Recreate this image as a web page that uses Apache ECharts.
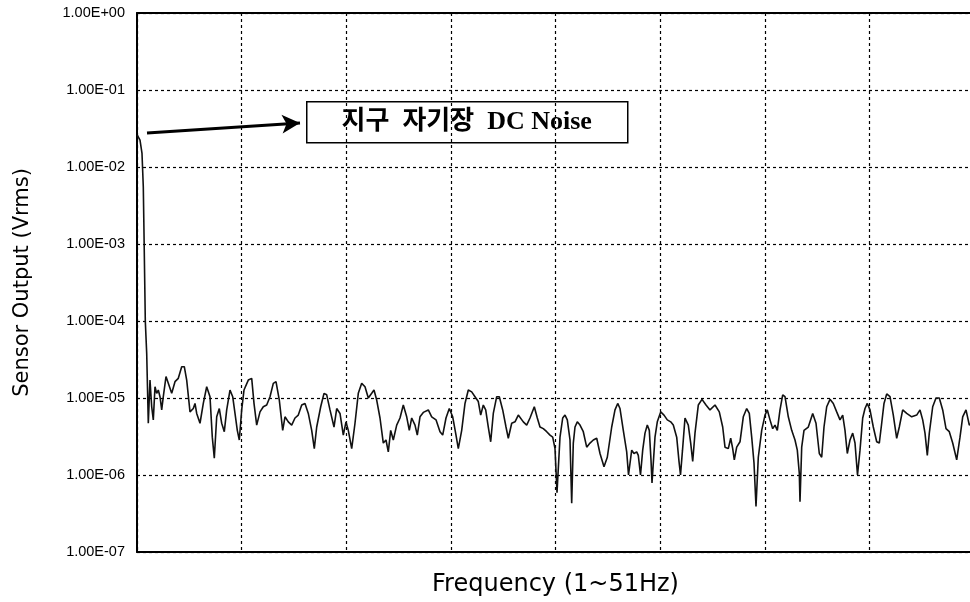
<!DOCTYPE html>
<html>
<head>
<meta charset="utf-8">
<script src="https://cdn.jsdelivr.net/npm/echarts@6/dist/echarts.min.js"></script>
<style>
  html, body { margin: 0; padding: 0; background: #fff; }
  #main { width: 970px; height: 602px; }
</style>
</head>
<body>
<div id="main"></div>
<script>
// frequency position (sample units, 0..837 over 1~51Hz)
const freqPos = [
  0.3, 3, 5, 6.3, 7.3, 8.3, 9.7, 11.3, 13, 14.7, 16.3, 18, 19.7, 21.3, 23, 24.7, 26.3, 29, 31.3, 34.7,
  38, 41.3, 44.7, 47.3, 49.7, 53, 56.3, 58, 59.7, 63, 66.3, 69.7, 73, 75.3, 77.3, 79.7, 82.3, 84.7, 87.3, 89.7,
  93, 95.7, 98, 100.3, 102.3, 104.7, 107, 111.3, 114.7, 117, 119.7, 123, 126.3, 129.7, 133, 136.3, 139, 142.3, 145.7, 148,
  151.3, 154.7, 158, 161.3, 164.7, 168, 171.3, 174.7, 177.3, 179.7, 183.7, 187, 189.7, 193, 197, 199.7, 203, 206.3, 209, 211.3,
  214.7, 218, 221.3, 224.7, 228, 231.3, 234.7, 237, 239.7, 243, 246.3, 249, 251.3, 253.7, 256.3, 259.7, 263, 266.3, 269.7, 272.3,
  274.7, 278, 280.3, 283, 286.3, 291.3, 294.7, 299, 303, 305.7, 309, 312.3, 315.7, 319, 321.3, 324.7, 328, 331.3, 334.7, 338,
  341.3, 343.7, 346.3, 348.7, 351.3, 353.7, 356.3, 359.7, 362.3, 365.7, 369, 371.3, 374.7, 378, 381.3, 383, 386.3, 389.7, 393, 397.3,
  400.3, 403, 406.3, 409.7, 413, 415.7, 418, 420, 423, 425.7, 428, 430.3, 433, 434.7, 436.3, 438, 440.3, 443, 446.3, 449.7,
  453, 456.3, 459.7, 463, 467, 470.3, 474.7, 478, 480.7, 483, 486.3, 489.7, 491.5, 494.7, 497, 499.7, 501.3, 503.5, 505.7, 508,
  510.3, 512.3, 514, 515, 518, 520.3, 523.7, 527, 530.3, 533.7, 536.3, 539.7, 542, 543.5, 545.5, 548, 551.3, 553.7, 555.7, 558,
  561.3, 565, 569, 573, 578, 582.3, 585.7, 588, 591.3, 593.7, 595.7, 597.3, 599.7, 603, 606.3, 609.7, 612.3, 614.7, 617, 619,
  621.3, 624.7, 628, 630.3, 633, 635.7, 638, 640.3, 643, 645.7, 648, 651.3, 654.7, 658, 660.3, 662.3, 663, 664.7, 667, 671.3,
  675.7, 679, 682.3, 684.7, 687, 689.7, 693, 696.3, 699.7, 703, 705.7, 708, 710.3, 713, 715.7, 718, 720.5, 723, 725.7, 728,
  730.3, 733, 736.3, 739.7, 742.3, 744.7, 747, 749.7, 753, 756.3, 759.7, 762.3, 765.7, 769.7, 774.7, 779.7, 783, 785.7, 788, 790.3,
  792.3, 795.7, 799, 802.3, 805.7, 809, 812.3, 815.7, 819.7, 823, 825.7, 829, 832.3, 836
];

// sensor output, Vrms
const sensorVrms = [
  2.6e-2, 2.24e-2, 1.5e-2, 5.5e-3, 7.6e-4, 1.0e-4, 3.8e-5, 4.7e-6, 1.71e-5, 7.7e-6, 5.2e-6, 1.4e-5, 1.15e-5, 1.27e-5, 1.04e-5, 7e-6, 1.04e-5, 1.9e-5, 1.55e-5, 1.15e-5,
  1.63e-5, 1.8e-5, 2.55e-5, 2.55e-5, 1.71e-5, 6.6e-6, 7.3e-6, 8.5e-6, 6.3e-6, 4.7e-6, 8.5e-6, 1.4e-5, 1.04e-5, 3.1e-6, 1.65e-6, 5.7e-6, 7.3e-6, 4.7e-6, 3.65e-6, 7e-6,
  1.27e-5, 1.04e-5, 6.3e-6, 3.8e-6, 2.85e-6, 7e-6, 1.27e-5, 1.71e-5, 1.8e-5, 8.5e-6, 4.45e-6, 6.6e-6, 7.7e-6, 8.1e-6, 1.04e-5, 1.55e-5, 1.63e-5, 9.4e-6, 3.8e-6, 5.7e-6,
  4.9e-6, 4.45e-6, 5.5e-6, 6e-6, 8.1e-6, 8.5e-6, 6.3e-6, 3.8e-6, 2.2e-6, 4.2e-6, 7.7e-6, 1.15e-5, 1.1e-5, 7e-6, 4.2e-6, 7.3e-6, 6.3e-6, 3.3e-6, 4.9e-6, 3.8e-6,
  2.2e-6, 4.7e-6, 1.15e-5, 1.55e-5, 1.4e-5, 1e-5, 1.15e-5, 1.27e-5, 9.4e-6, 5.5e-6, 2.6e-6, 2.85e-6, 2.0e-6, 3.8e-6, 2.85e-6, 4.45e-6, 5.5e-6, 8.1e-6, 5.7e-6, 3.8e-6,
  5.5e-6, 4.45e-6, 3.3e-6, 5.7e-6, 6.5e-6, 7e-6, 5.7e-6, 5.2e-6, 3.65e-6, 3.3e-6, 5.5e-6, 7.3e-6, 5.7e-6, 3.3e-6, 2.2e-6, 3.8e-6, 8.5e-6, 1.27e-5, 1.2e-5, 1.04e-5,
  9e-6, 6e-6, 8.1e-6, 7e-6, 4.2e-6, 2.7e-6, 6.3e-6, 1.04e-5, 1.04e-5, 7e-6, 4.2e-6, 3e-6, 4.7e-6, 4.9e-6, 6e-6, 6.3e-6, 4.9e-6, 4.45e-6, 5.5e-6, 7.7e-6,
  5.5e-6, 4.2e-6, 4e-6, 3.65e-6, 3.3e-6, 3.1e-6, 2.2e-6, 5.9e-7, 3.1e-6, 5.5e-6, 6e-6, 5.2e-6, 2.85e-6, 4.3e-7, 2.6e-6, 4.2e-6, 4.9e-6, 4.45e-6, 3.65e-6, 2.3e-6,
  2.6e-6, 2.85e-6, 3e-6, 1.9e-6, 1.28e-6, 1.7e-6, 4.2e-6, 7e-6, 8.5e-6, 7.3e-6, 3.8e-6, 2e-6, 1.0e-6, 2.1e-6, 1.9e-6, 2e-6, 1.8e-6, 1.0e-6, 2.1e-6, 3.5e-6,
  4.45e-6, 3.8e-6, 1.57e-6, 7.9e-7, 3.1e-6, 4.9e-6, 6.6e-6, 6e-6, 5.2e-6, 4.9e-6, 4.45e-6, 3.1e-6, 1.5e-6, 1.0e-6, 2.1e-6, 5.5e-6, 4.45e-6, 2.6e-6, 1.5e-6, 3.5e-6,
  8.1e-6, 9.6e-6, 8.1e-6, 7e-6, 8.1e-6, 6.6e-6, 4.2e-6, 2.3e-6, 2.2e-6, 3e-6, 2.2e-6, 1.57e-6, 2.3e-6, 2.7e-6, 5.7e-6, 7.3e-6, 6.3e-6, 3.1e-6, 1.43e-6, 3.9e-7,
  1.7e-6, 3.8e-6, 6e-6, 7e-6, 5.2e-6, 4e-6, 4.45e-6, 3.8e-6, 7e-6, 1.1e-5, 1.04e-5, 5.7e-6, 3.8e-6, 2.85e-6, 2.1e-6, 1.05e-6, 4.5e-7, 2.3e-6, 3.8e-6, 4.2e-6,
  6.3e-6, 4.7e-6, 1.9e-6, 1.7e-6, 4.2e-6, 7.7e-6, 9.6e-6, 8.5e-6, 6.6e-6, 5.2e-6, 6e-6, 3.8e-6, 1.9e-6, 2.85e-6, 3.5e-6, 2.6e-6, 1.0e-6, 2.1e-6, 5.5e-6, 7.3e-6,
  8.5e-6, 7e-6, 4.2e-6, 2.7e-6, 2.6e-6, 4.7e-6, 8.5e-6, 1.13e-5, 1.04e-5, 6e-6, 3e-6, 4.2e-6, 7e-6, 6.3e-6, 5.7e-6, 6e-6, 7e-6, 5.2e-6, 3.5e-6, 1.8e-6,
  3.5e-6, 7.7e-6, 1e-5, 1e-5, 7e-6, 4e-6, 3.65e-6, 2.6e-6, 1.57e-6, 3.1e-6, 5.7e-6, 7e-6, 4.45e-6, 5e-6
];

const yTickLabels = ['1.00E-07', '1.00E-06', '1.00E-05', '1.00E-04', '1.00E-03', '1.00E-02', '1.00E-01', '1.00E+00'];

// arrow pointing at the DC peak
const arrowFrom = [10, 2.77e-2];
const arrowTo = [163, 3.73e-2];
const noteText = '지구  자기장  DC Noise';

const dotted = { color: '#000', width: 1.2, type: [3, 3] };

const chart = echarts.init(document.getElementById('main'), null, { renderer: 'canvas' });
chart.setOption({
  animation: false,
  backgroundColor: '#fff',
  grid: { left: 137, top: 13, width: 837, height: 539, outerBoundsMode: 'none' },
  xAxis: [{
    type: 'value',
    min: 0,
    max: 837,
    interval: 104.625,
    name: 'Frequency (1~51Hz)',
    nameLocation: 'middle',
    nameGap: 21,
    nameTextStyle: { fontFamily: 'DejaVu Sans', fontSize: 24, color: '#000' },
    axisLine: { lineStyle: { color: '#000', width: 2 } },
    axisTick: { show: false },
    axisLabel: { show: false },
    splitLine: { show: true, lineStyle: dotted }
  }, {
    type: 'value',
    position: 'top',
    min: 0,
    max: 837,
    axisLine: { lineStyle: { color: '#000', width: 2 } },
    axisTick: { show: false },
    axisLabel: { show: false },
    splitLine: { show: false }
  }],
  yAxis: {
    type: 'log',
    logBase: 10,
    min: 1e-7,
    max: 1,
    name: 'Sensor Output (Vrms)',
    nameLocation: 'middle',
    nameRotate: 90,
    nameGap: 104,
    nameTextStyle: { fontFamily: 'DejaVu Sans', fontSize: 21, color: '#000' },
    axisLine: { show: true, lineStyle: { color: '#000', width: 2 } },
    axisTick: { show: false },
    axisLabel: {
      margin: 12,
      fontFamily: 'Liberation Sans',
      fontSize: 14.5,
      color: '#000',
      formatter: v => yTickLabels[Math.round(Math.log10(v)) + 7]
    },
    splitLine: { show: true, lineStyle: dotted }
  },
  series: [{
    type: 'line',
    data: freqPos.map((f, i) => [f, sensorVrms[i]]),
    showSymbol: false,
    lineStyle: { color: '#111', width: 1.6 },
    markLine: {
      silent: true,
      symbol: ['none', 'arrow'],
      symbolSize: [14, 18],
      label: { show: false },
      lineStyle: { color: '#000', width: 3, type: 'solid' },
      data: [[{ coord: arrowFrom }, { coord: arrowTo }]]
    }
  }],
  graphic: [{
    type: 'group',
    left: 306,
    top: 101,
    children: [{
      type: 'rect',
      shape: { x: 0, y: 0, width: 321, height: 41 },
      style: { fill: '#fff', stroke: '#000', lineWidth: 1.5 }
    }, {
      type: 'text',
      x: 160,
      y: 21,
      style: {
        text: noteText,
        font: 'bold 26px "Liberation Serif", "Noto Sans CJK KR", serif',
        fill: '#000',
        align: 'center',
        verticalAlign: 'middle'
      }
    }]
  }]
});
</script>
</body>
</html>
